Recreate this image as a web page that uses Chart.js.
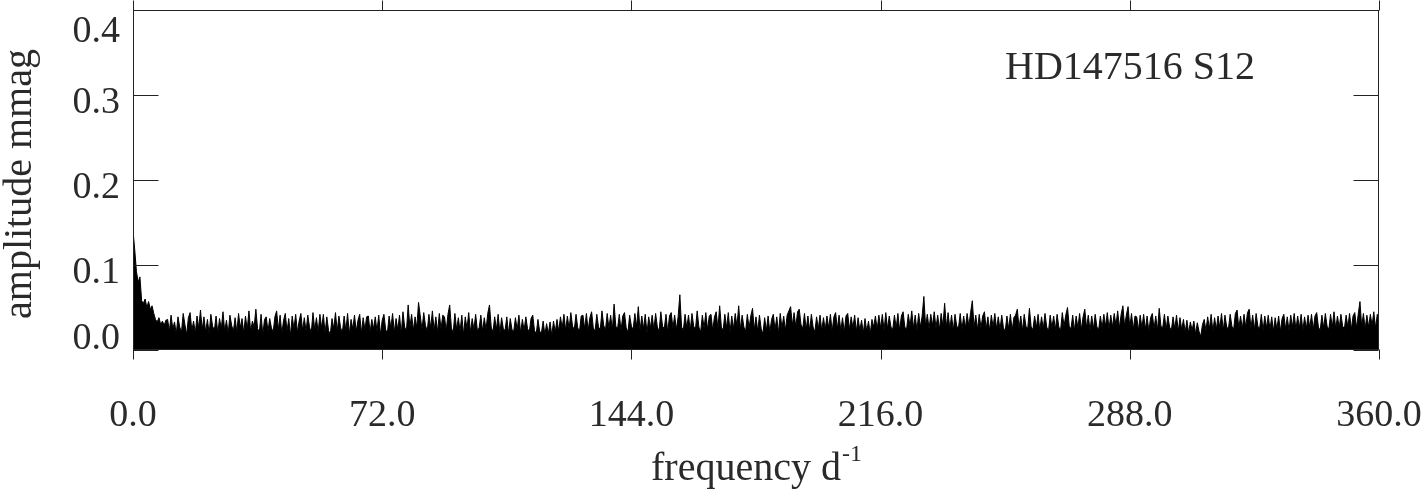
<!DOCTYPE html>
<html>
<head>
<meta charset="utf-8">
<script src="https://cdn.jsdelivr.net/npm/chart.js@4.4.1/dist/chart.umd.min.js"></script>
<style>
  html, body { margin: 0; padding: 0; background: #fff; }
  #wrap { width: 1423px; height: 491px; }
</style>
</head>
<body>
<div id="wrap"><canvas id="spectrum" width="1423" height="491"></canvas></div>
<script>
// amplitude spectrum, sampled every 0.5 d^-1 from 0 to 360 (mmag)
const freqStart = 0;
const freqStep = 0.5;
const amplitude = [
  0.141,0.118,0.092,0.080,0.086,0.058,0.055,0.060,0.050,0.057,0.048,0.052,0.043,0.036,0.033,0.038,0.030,0.034,0.029,0.035,
  0.036,0.022,0.041,0.025,0.033,0.019,0.039,0.027,0.021,0.043,0.030,0.018,0.038,0.044,0.023,0.034,0.020,0.040,0.026,0.047,
  0.024,0.039,0.021,0.036,0.019,0.042,0.028,0.023,0.040,0.020,0.037,0.025,0.045,0.022,0.035,0.019,0.041,0.029,0.022,0.038,
  0.021,0.043,0.026,0.037,0.020,0.040,0.024,0.046,0.022,0.034,0.027,0.048,0.025,0.021,0.042,0.018,0.036,0.039,0.022,0.037,
  0.026,0.021,0.039,0.046,0.024,0.041,0.019,0.035,0.043,0.022,0.037,0.017,0.040,0.025,0.042,0.021,0.034,0.043,0.023,0.038,
  0.022,0.041,0.027,0.020,0.044,0.024,0.038,0.021,0.042,0.026,0.042,0.020,0.039,0.023,0.018,0.037,0.025,0.044,0.022,0.040,
  0.026,0.021,0.040,0.023,0.043,0.019,0.036,0.025,0.041,0.022,0.035,0.042,0.020,0.038,0.024,0.039,0.040,0.021,0.036,0.025,
  0.039,0.022,0.041,0.018,0.035,0.042,0.024,0.020,0.040,0.026,0.043,0.021,0.037,0.024,0.041,0.019,0.045,0.027,0.022,0.053,
  0.027,0.042,0.023,0.039,0.026,0.056,0.040,0.024,0.044,0.029,0.022,0.042,0.026,0.046,0.023,0.039,0.021,0.043,0.025,0.041,
  0.039,0.023,0.042,0.053,0.026,0.020,0.043,0.024,0.038,0.022,0.041,0.018,0.039,0.025,0.044,0.021,0.037,0.024,0.042,0.023,
  0.026,0.041,0.022,0.038,0.024,0.043,0.053,0.027,0.021,0.039,0.024,0.042,0.020,0.038,0.025,0.023,0.039,0.019,0.037,0.024,
  0.022,0.038,0.024,0.041,0.020,0.036,0.023,0.039,0.025,0.021,0.037,0.041,0.023,0.019,0.036,0.022,0.020,0.034,0.018,0.031,
  0.019,0.033,0.017,0.034,0.021,0.036,0.022,0.039,0.026,0.042,0.023,0.040,0.025,0.044,0.028,0.024,0.042,0.026,0.022,0.040,
  0.041,0.025,0.043,0.023,0.038,0.045,0.026,0.022,0.042,0.027,0.024,0.046,0.029,0.023,0.043,0.026,0.041,0.024,0.054,0.028,
  0.025,0.042,0.023,0.040,0.044,0.026,0.021,0.041,0.028,0.024,0.043,0.027,0.051,0.023,0.040,0.025,0.042,0.020,0.039,0.026,
  0.041,0.024,0.043,0.027,0.022,0.045,0.028,0.025,0.042,0.021,0.040,0.044,0.026,0.041,0.024,0.039,0.065,0.027,0.023,0.042,
  0.026,0.041,0.023,0.043,0.028,0.024,0.046,0.027,0.021,0.041,0.026,0.044,0.024,0.040,0.042,0.023,0.039,0.045,0.025,0.052,
  0.027,0.023,0.042,0.026,0.044,0.021,0.040,0.025,0.043,0.028,0.052,0.024,0.041,0.027,0.022,0.042,0.026,0.040,0.049,0.024,
  0.039,0.022,0.041,0.025,0.019,0.038,0.023,0.040,0.021,0.036,0.042,0.024,0.039,0.020,0.043,0.026,0.040,0.023,0.041,0.046,
  0.051,0.029,0.044,0.027,0.045,0.048,0.030,0.025,0.043,0.024,0.040,0.023,0.042,0.027,0.021,0.039,0.025,0.041,0.023,0.038,
  0.024,0.040,0.026,0.042,0.022,0.039,0.044,0.025,0.041,0.023,0.038,0.021,0.040,0.043,0.024,0.039,0.026,0.041,0.022,0.038,
  0.023,0.035,0.020,0.037,0.022,0.034,0.019,0.036,0.027,0.040,0.024,0.041,0.026,0.042,0.023,0.044,0.025,0.040,0.027,0.024,
  0.041,0.026,0.043,0.023,0.040,0.045,0.027,0.024,0.042,0.028,0.046,0.026,0.041,0.023,0.043,0.027,0.040,0.063,0.028,0.042,
  0.025,0.042,0.029,0.045,0.026,0.041,0.024,0.043,0.028,0.055,0.027,0.044,0.025,0.041,0.023,0.042,0.028,0.026,0.043,0.024,
  0.040,0.026,0.043,0.028,0.044,0.058,0.027,0.041,0.024,0.042,0.026,0.040,0.045,0.025,0.039,0.023,0.041,0.027,0.043,0.025,
  0.039,0.024,0.041,0.026,0.022,0.040,0.025,0.042,0.023,0.038,0.041,0.048,0.026,0.040,0.023,0.042,0.028,0.025,0.049,0.027,
  0.024,0.040,0.026,0.042,0.023,0.039,0.025,0.043,0.027,0.022,0.041,0.026,0.040,0.024,0.042,0.027,0.023,0.044,0.028,0.041,
  0.050,0.028,0.025,0.041,0.023,0.040,0.026,0.043,0.024,0.039,0.048,0.026,0.041,0.023,0.040,0.025,0.042,0.027,0.024,0.040,
  0.026,0.042,0.028,0.044,0.025,0.041,0.027,0.043,0.029,0.046,0.026,0.042,0.052,0.028,0.041,0.051,0.027,0.043,0.024,0.040,
  0.039,0.023,0.041,0.026,0.042,0.024,0.040,0.022,0.038,0.043,0.025,0.040,0.023,0.049,0.028,0.026,0.042,0.024,0.040,0.027,
  0.023,0.039,0.025,0.041,0.022,0.038,0.024,0.036,0.021,0.035,0.020,0.033,0.023,0.034,0.019,0.032,0.022,0.016,0.030,0.036,
  0.023,0.039,0.025,0.042,0.022,0.038,0.024,0.040,0.026,0.043,0.023,0.041,0.027,0.025,0.042,0.028,0.024,0.043,0.047,0.026,
  0.040,0.025,0.042,0.027,0.044,0.048,0.026,0.041,0.024,0.043,0.028,0.025,0.042,0.023,0.040,0.026,0.041,0.024,0.039,0.022,
  0.038,0.024,0.040,0.022,0.037,0.042,0.025,0.039,0.023,0.041,0.027,0.043,0.024,0.040,0.026,0.042,0.023,0.039,0.025,0.041,
  0.026,0.042,0.024,0.040,0.044,0.027,0.023,0.041,0.026,0.043,0.028,0.024,0.042,0.027,0.045,0.025,0.040,0.026,0.042,0.028,
  0.025,0.041,0.027,0.043,0.024,0.040,0.044,0.026,0.042,0.057,0.028,0.043,0.025,0.041,0.027,0.042,0.029,0.045,0.026,0.042,
  0.034
];
const xTicks = [0, 72, 144, 216, 288, 360];
const yTicks = [0.0, 0.1, 0.2, 0.3, 0.4];
const starLabel = 'HD147516 S12';

const points = amplitude.map(function (a, i) {
  return { x: freqStart + i * freqStep, y: a };
});

const serif = '"Liberation Serif", "DejaVu Serif", serif';
const textColor = '#2a2a2a';
const frameColor = '#222';

// frame, ticks and all text are drawn by hand, like the original plot
const framePlugin = {
  id: 'frame',
  afterDraw: function (chart) {
    const ctx = chart.ctx;
    const area = chart.chartArea;
    const xs = chart.scales.x;
    const ys = chart.scales.y;
    const L = Math.round(area.left) + 0.5;
    const R = Math.round(area.right) - 0.5;
    const T = Math.round(area.top) + 0.5;
    const B = Math.round(area.bottom) - 0.5;

    ctx.save();
    ctx.strokeStyle = frameColor;
    ctx.lineWidth = 1;
    ctx.strokeRect(L, T, R - L, B - T);

    ctx.beginPath();
    xTicks.forEach(function (v) {
      const px = Math.round(xs.getPixelForValue(v)) + 0.5;
      ctx.moveTo(px, T); ctx.lineTo(px, T - 10);
      ctx.moveTo(px, B); ctx.lineTo(px, B + 10);
    });
    yTicks.forEach(function (v) {
      const py = Math.round(ys.getPixelForValue(v)) + 0.5;
      ctx.moveTo(L, py); ctx.lineTo(L + 25, py);
      ctx.moveTo(R, py); ctx.lineTo(R - 25, py);
    });
    ctx.stroke();

    ctx.fillStyle = textColor;
    ctx.font = '38px ' + serif;

    // y tick labels, kept inside the frame height
    ctx.textAlign = 'right';
    ctx.textBaseline = 'alphabetic';
    yTicks.forEach(function (v) {
      const py = ys.getPixelForValue(v);
      const base = Math.min(Math.max(py + 18, area.top + 32), area.bottom - 1);
      ctx.fillText(v.toFixed(1), area.left - 13, base);
    });

    // x tick labels
    ctx.textAlign = 'center';
    xTicks.forEach(function (v) {
      ctx.fillText(v.toFixed(1), xs.getPixelForValue(v), 426);
    });

    // x title with superscript
    ctx.font = '40px ' + serif;
    const main = 'frequency d';
    const wMain = ctx.measureText(main).width;
    ctx.font = '24px ' + serif;
    const wSup = ctx.measureText('-1').width;
    const cx = (area.left + area.right) / 2;
    const x0 = cx - (wMain + wSup) / 2;
    ctx.textAlign = 'left';
    ctx.font = '40px ' + serif;
    ctx.fillText(main, x0, 480);
    ctx.font = '24px ' + serif;
    ctx.fillText('-1', x0 + wMain + 1, 461);

    // y title
    ctx.save();
    ctx.translate(31, (area.top + area.bottom) / 2 + 4);
    ctx.rotate(-Math.PI / 2);
    ctx.textAlign = 'center';
    ctx.font = '40px ' + serif;
    ctx.fillText('amplitude mmag', 0, 0);
    ctx.restore();

    // star / sector annotation
    ctx.textAlign = 'left';
    ctx.font = '40px ' + serif;
    ctx.fillText(starLabel, 1005, 79);
    ctx.restore();
  }
};

new Chart(document.getElementById('spectrum'), {
  type: 'line',
  data: {
    datasets: [{
      data: points,
      borderColor: '#000',
      backgroundColor: '#000',
      borderWidth: 1,
      fill: 'origin',
      pointRadius: 0,
      tension: 0
    }]
  },
  options: {
    responsive: false,
    devicePixelRatio: 1,
    animation: false,
    layout: { padding: { top: 10, right: 44, left: 0, bottom: 0 } },
    plugins: { legend: { display: false }, tooltip: { enabled: false } },
    scales: {
      x: {
        type: 'linear', min: 0, max: 360,
        ticks: { display: false },
        grid: { display: false },
        border: { display: false },
        afterFit: function (s) { s.height = 141; }
      },
      y: {
        min: 0, max: 0.4,
        ticks: { display: false },
        grid: { display: false },
        border: { display: false },
        afterFit: function (s) { s.width = 133; }
      }
    }
  },
  plugins: [framePlugin]
});
</script>
</body>
</html>
